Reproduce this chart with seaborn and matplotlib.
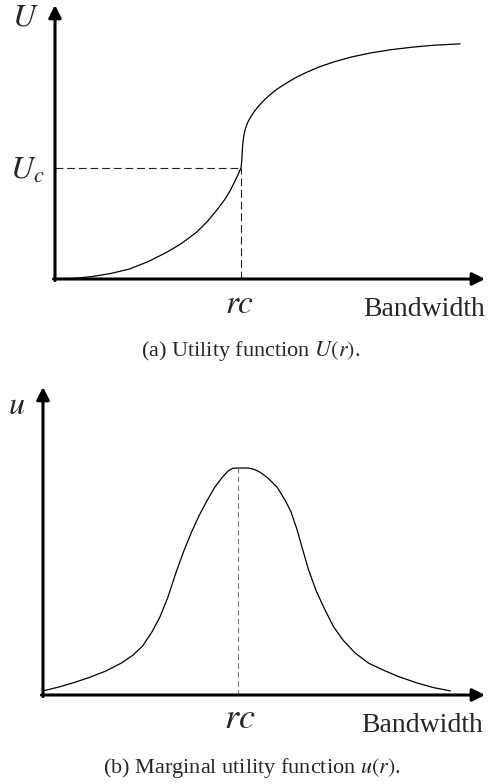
import matplotlib
matplotlib.use("Agg")
import matplotlib.pyplot as plt
import seaborn as sns
import pandas as pd

# Utility curve U(r): bandwidth vs. utility
bw_u = [0, 0.5, 1.0, 1.5, 2.0, 2.5, 3.0, 3.4, 3.8, 4.1, 4.35, 4.55, 4.7, 4.82,
        4.92, 5.0, 5.02, 5.03, 5.04, 5.055, 5.08, 5.12, 5.18, 5.26, 5.36, 5.48,
        5.62, 5.78, 5.97, 6.2, 6.45, 6.75, 7.1, 7.5, 7.95, 8.45, 9.0, 9.6,
        10.2, 10.89]
utility = [0, 0.3, 1.1, 2.5, 4.5, 7.8, 12.0, 16.0, 21.0, 26.0, 31.0, 35.5, 39.5,
           43.5, 47.0, 50.0, 53.0, 56.0, 59.0, 62.0, 65.0, 67.8, 70.5, 73.0, 75.5,
           78.0, 80.5, 83.0, 85.5, 88.0, 90.5, 93.0, 95.5, 97.8, 99.9, 101.7,
           103.2, 104.4, 105.3, 105.9]

# Marginal utility curve u(r)
bw_m = [0, 0.4, 0.8, 1.2, 1.6, 2.0, 2.3, 2.55, 2.8, 3.0, 3.2, 3.4, 3.6, 3.8,
        4.0, 4.2, 4.4, 4.6, 4.75, 4.87, 5.0, 5.13, 5.26, 5.4, 5.56, 5.75, 6.0,
        6.2, 6.35, 6.5, 6.65, 6.8, 7.0, 7.2, 7.45, 7.7, 8.0, 8.35, 8.72, 9.1,
        9.59, 10.0, 10.44]
marginal = [1.8, 3.5, 5.5, 7.8, 10.5, 14.0, 17.5, 21.5, 28.0, 34.5, 43.0, 53.5,
            63.0, 71.5, 79.0, 85.5, 91.5, 96.0, 98.8, 99.9, 100, 100, 100, 99.5,
            98.2, 95.8, 91.6, 86.0, 81.0, 73.5, 64.5, 55.5, 46.0, 38.5, 30.0,
            24.0, 18.5, 14.0, 11.0, 8.2, 5.3, 3.3, 1.8]

r_c = 5.0
U_c = 50.0

W, H = 489, 784

sns.set_theme(style="white")
plt.rcParams["font.family"] = ["Liberation Serif", "DejaVu Serif"]
plt.rcParams["mathtext.fontset"] = "stix"

fig = plt.figure(figsize=(W / 100, H / 100), dpi=100)


def box(left, top, right, bottom):
    return [left / W, 1 - bottom / H, (right - left) / W, (bottom - top) / H]


def put(x, y, s, size, **kw):
    fig.text(x / W, 1 - y / H, s, fontsize=size, ha="center", va="center", **kw)


def arrow_axes(ax, xmax, ymax, xpad, ypad):
    style = "-|>,head_length=0.75,head_width=0.38"
    props = dict(arrowstyle=style, lw=2.2, color="black", mutation_scale=10,
                 shrinkA=0, shrinkB=0)
    ax.annotate("", xy=(xmax, 0), xytext=(-xpad, 0), arrowprops=props,
                annotation_clip=False)
    ax.annotate("", xy=(0, ymax), xytext=(0, -ypad), arrowprops=props,
                annotation_clip=False)


def clean(ax, xmax, ymax):
    ax.set_xlim(0, xmax)
    ax.set_ylim(0, ymax)
    for s in ax.spines.values():
        s.set_visible(False)
    ax.set_xticks([])
    ax.set_yticks([])
    ax.set_xlabel("")
    ax.set_ylabel("")
    ax.patch.set_alpha(0)


# (a) utility function
ax1 = fig.add_axes(box(55, 5, 485, 279))
xmax1, ymax1 = 11.56, 123.4
df_u = pd.DataFrame({"r": bw_u, "U": utility})
sns.lineplot(data=df_u, x="r", y="U", ax=ax1, color="black", lw=0.9,
             estimator=None, sort=False, clip_on=False)
ax1.plot([0, r_c], [U_c, U_c], color="#222222", lw=0.8, ls=(0, (7, 3.5)))
ax1.plot([r_c, r_c], [0, U_c], color="#222222", lw=0.8, ls=(0, (7, 3.5)))
clean(ax1, xmax1, ymax1)
arrow_axes(ax1, xmax1, ymax1, 0.04, 0.7)

# (b) marginal utility function
ax2 = fig.add_axes(box(43, 387, 485, 695))
xmax2, ymax2 = 11.33, 135.7
df_m = pd.DataFrame({"r": bw_m, "u": marginal})
sns.lineplot(data=df_m, x="r", y="u", ax=ax2, color="black", lw=0.9,
             estimator=None, sort=False, clip_on=False)
ax2.plot([r_c, r_c], [0, 100], color="#777777", lw=0.8, ls=(0, (5, 3)))
clean(ax2, xmax2, ymax2)
arrow_axes(ax2, xmax2, ymax2, 0.04, 0.7)

# labels
put(25, 18, "$U$", 23)
put(27, 171, "$U_c$", 23)
put(240, 305, "$rc$", 24)
put(424, 310, "Bandwidth", 20)
put(251, 351, "(a) Utility function $U(r)$.", 16)

put(17, 407, "$u$", 23)
put(240, 719, "$rc$", 26)
put(422, 725, "Bandwidth", 20)
put(252, 768, "(b) Marginal utility function $u(r)$.", 16)

fig.savefig("out.png", dpi=100)
